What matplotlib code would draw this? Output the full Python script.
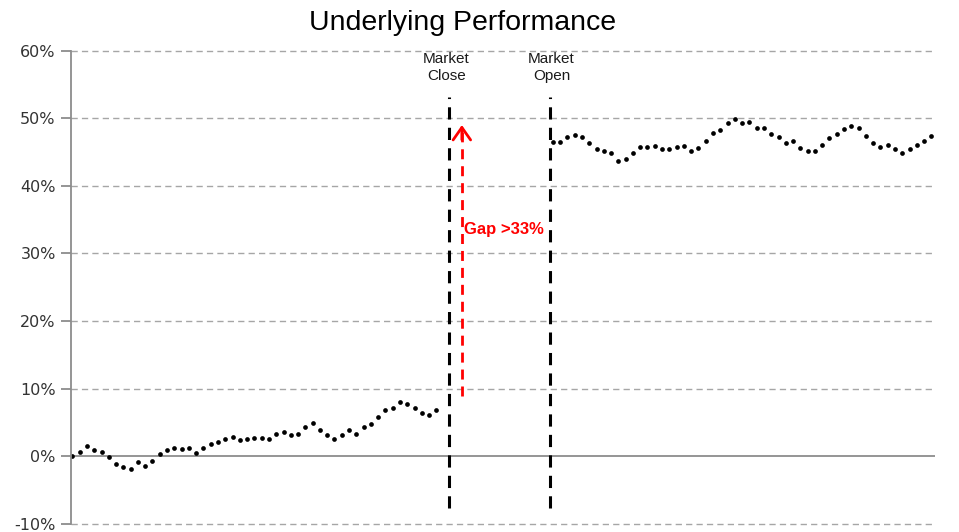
import numpy as np
import matplotlib
matplotlib.use("Agg")
import matplotlib.pyplot as plt

plt.rcParams["font.family"] = ["Liberation Sans", "DejaVu Sans"]

# performance before market close (%), one value per interval
before_close = [0.0, 0.6, 1.6, 1.0, 0.6, -0.1, -1.1, -1.6, -1.8, -0.9,
                -1.4, -0.7, 0.3, 1.0, 1.2, 1.1, 1.3, 0.5, 1.3, 1.9,
                2.1, 2.5, 2.8, 2.4, 2.5, 2.7, 2.7, 2.5, 3.3, 3.6,
                3.2, 3.3, 4.3, 4.9, 3.9, 3.1, 2.6, 3.1, 3.9, 3.3,
                4.3, 4.8, 5.8, 6.9, 7.2, 8.1, 7.7, 7.1, 6.4, 6.1, 6.8]
# performance after market open (%)
after_open = [46.5, 46.5, 47.2, 47.5, 47.2, 46.4, 45.5, 45.1, 44.8, 43.7,
              43.9, 44.8, 45.7, 45.8, 45.9, 45.4, 45.4, 45.8, 45.9, 45.2,
              45.6, 46.7, 47.8, 48.3, 49.3, 49.9, 49.3, 49.5, 48.5, 48.5,
              47.6, 47.2, 46.3, 46.7, 45.6, 45.2, 45.2, 46.0, 47.1, 47.6,
              48.4, 48.8, 48.6, 47.4, 46.3, 45.7, 46.0, 45.4, 44.8, 45.5,
              46.0, 46.6, 47.4]
open_start = 66
close_x, open_x = 51.7, 65.6
gap_x, gap_from, gap_to = 53.5, 9.0, 49.4
yticks = [-10, 0, 10, 20, 30, 40, 50, 60]

x1 = np.arange(len(before_close))
x2 = open_start + np.arange(len(after_open))

fig = plt.figure(figsize=(9.59, 5.32), dpi=100)
ax = fig.add_axes([0.074, 0.015, 0.901, 0.89])

ax.plot(x1, before_close, "o", color="black", ms=3.4, mew=0)
ax.plot(x2, after_open, "o", color="black", ms=3.4, mew=0)

for xv in (close_x, open_x):
    ax.plot([xv, xv], [-7.6, 53.2], color="black", lw=2.2, ls=(0, (4, 2.7)))

ax.plot([gap_x, gap_x], [gap_from, gap_to - 1.5], color="red", lw=2.0, ls=(0, (3.6, 2.5)))
ax.annotate("", xy=(gap_x, gap_to), xytext=(gap_x, gap_to - 3),
            arrowprops=dict(arrowstyle="->,head_length=0.5,head_width=0.35",
                            color="red", lw=2.0, mutation_scale=18))
ax.text(gap_x + 0.3, 33.5, "Gap >33%", color="red", fontsize=12, fontweight="bold",
        va="center", ha="left")

ax.text(close_x - 0.3, 57.5, "Market\nClose", ha="center", va="center", fontsize=11,
        color="#1a1a1a", linespacing=1.35)
ax.text(open_x + 0.2, 57.5, "Market\nOpen", ha="center", va="center", fontsize=11,
        color="#1a1a1a", linespacing=1.35)

ax.set_xlim(-0.2, 118.5)
ax.set_ylim(-10, 60)
ax.set_yticks(yticks)
ax.set_yticklabels([f"{t}%" for t in yticks], fontsize=11.5, color="#333333",
                   family="DejaVu Sans")
ax.set_xticks([])
for t in yticks:
    if t != 0:
        ax.axhline(t, color="#a6a6a6", lw=1.0, ls=(0, (4.5, 3)), zorder=0, clip_on=False)
ax.axhline(0, color="#8c8c8c", lw=1.3, zorder=0)
for s in ["top", "right", "bottom"]:
    ax.spines[s].set_visible(False)
ax.spines["left"].set_color("#8c8c8c")
ax.spines["left"].set_linewidth(1.3)
ax.tick_params(axis="y", length=7, color="#8c8c8c", width=1.3, pad=4)

fig.text(0.482, 0.956, "Underlying Performance", ha="center", va="center", fontsize=20.5)

fig.savefig("out.png", dpi=100)
